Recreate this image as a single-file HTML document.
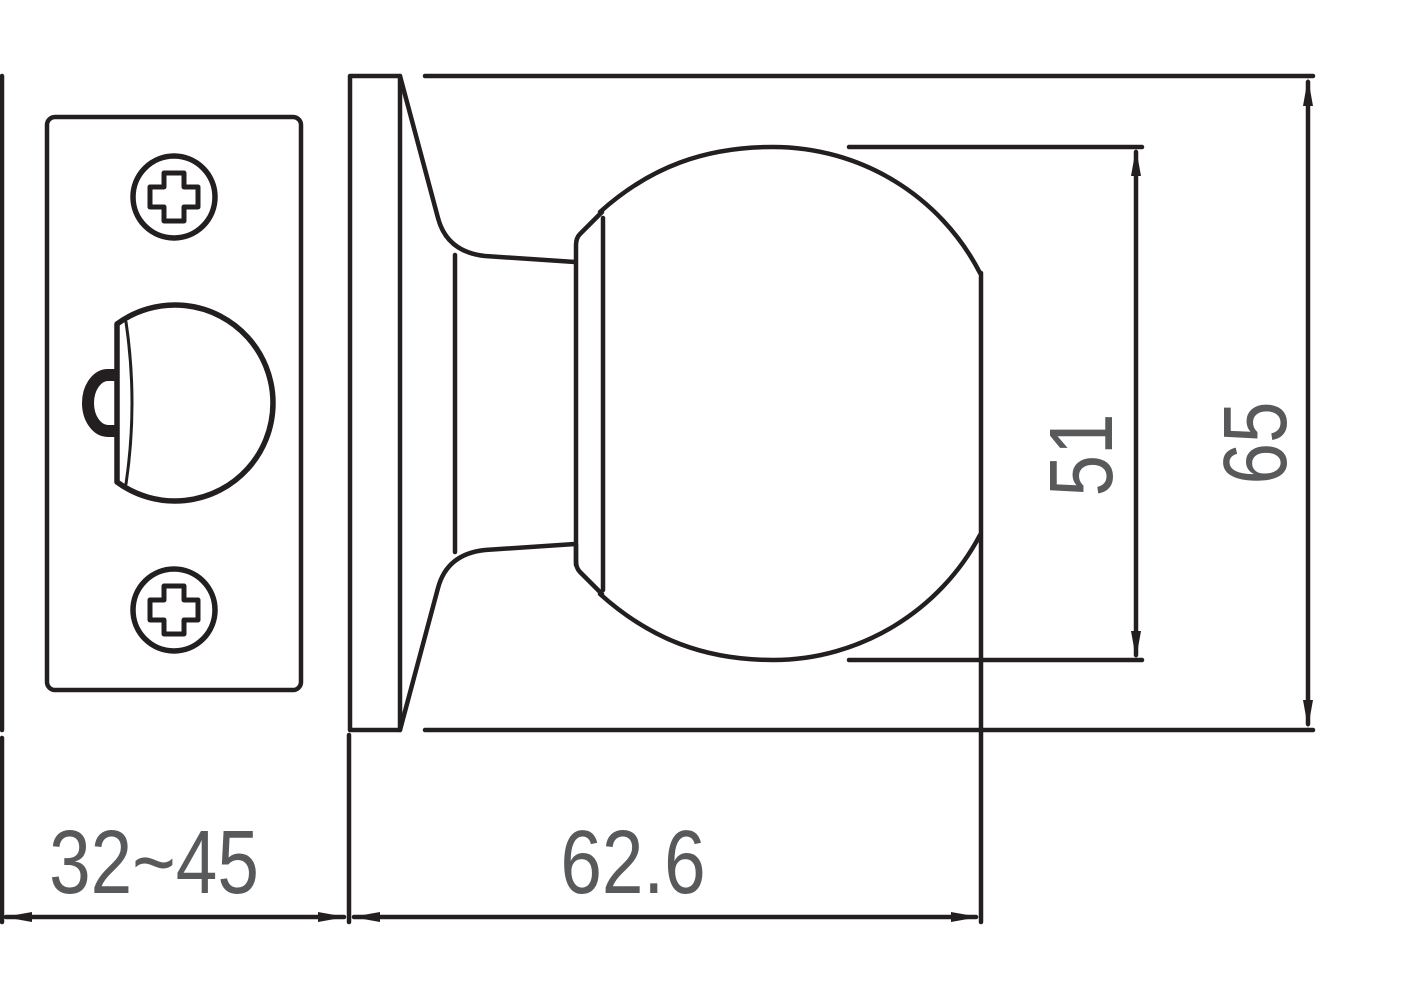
<!DOCTYPE html>
<html><head><style>html,body{margin:0;padding:0;background:#fff}svg{display:block}</style></head>
<body>
<svg width="1409" height="1007" viewBox="0 0 1409 1007" xmlns="http://www.w3.org/2000/svg">
<g fill="none" stroke="#231f20" stroke-width="4.5" stroke-linecap="round" stroke-linejoin="round">
<line x1="2" y1="76" x2="2" y2="730"/>
<line x1="2" y1="738" x2="2" y2="922"/>
<rect x="47" y="117" width="254" height="573" rx="8"/>
<circle cx="174" cy="197" r="41" stroke-width="5.5"/>
<circle cx="174" cy="610" r="41" stroke-width="5.5"/>
<path d="M164,173 h20 v14 h14 v20 h-14 v14 h-20 v-14 h-14 v-20 h14 z" stroke-width="5"/>
<path d="M164,586 h20 v14 h14 v20 h-14 v14 h-20 v-14 h-14 v-20 h14 z" stroke-width="5"/>
<path d="M117,324 A98,98 0 1 1 117,482 Z" stroke-width="5.5"/>
<path d="M126,322 Q138,403 126,484" stroke-width="3"/>
<path d="M116,375 h-8 a20,28 0 0 0 0,56 h8" stroke-width="12" stroke-linecap="butt"/>
<rect x="350" y="76" width="50" height="654"/>
<path d="M400,76 L438,218 Q447,252 485,256 L575,262"/>
<path d="M400,730 L438,588 Q447,554 485,550 L575,544"/>
<line x1="455" y1="255" x2="455" y2="552"/>
<path d="M576,565 V245 Q576,238 580,234 L602,212"/>
<path d="M576,545 V561 Q576,568 580,572 L602,594"/>
<line x1="603" y1="218" x2="603" y2="590"/>
<path d="M600,212 C650,167 705,147 773,147 C860,147 940,195 980,273"/>
<path d="M600,594 C650,639 705,660 773,660 C860,660 940,611 980,535"/>
<line x1="981" y1="273" x2="981" y2="922"/>
<line x1="425" y1="76" x2="1313" y2="76"/>
<line x1="425" y1="730" x2="1313" y2="730"/>
<line x1="849" y1="147" x2="1142" y2="147"/>
<line x1="849" y1="660" x2="1142" y2="660"/>
<line x1="1136" y1="152" x2="1136" y2="655"/>
<line x1="1308" y1="82" x2="1308" y2="724"/>
<line x1="349" y1="735" x2="349" y2="922"/>
<line x1="6" y1="917" x2="344" y2="917"/>
<line x1="354" y1="917" x2="976" y2="917"/>
</g>
<g fill="#231f20">
<path d="M1136,148 l-5,28 h10 z"/><path d="M1136,659 l-5,-28 h10 z"/>
<path d="M1308,78 l-5,28 h10 z"/><path d="M1308,728 l-5,-28 h10 z"/>
<path d="M4,917 l28,-5 v10 z"/><path d="M346,917 l-28,-5 v10 z"/>
<path d="M352,917 l28,-5 v10 z"/><path d="M979,917 l-28,-5 v10 z"/>
</g>
<g fill="#58595b" font-family="Liberation Sans, sans-serif" font-size="90">
<text transform="translate(154,893) scale(0.83,1)" text-anchor="middle">32~45</text>
<text transform="translate(633,893) scale(0.83,1)" text-anchor="middle">62.6</text>
<text transform="translate(1112,455) rotate(-90) scale(0.83,1)" text-anchor="middle">51</text>
<text transform="translate(1286,443) rotate(-90) scale(0.83,1)" text-anchor="middle">65</text>
</g>
</svg>
</body></html>
